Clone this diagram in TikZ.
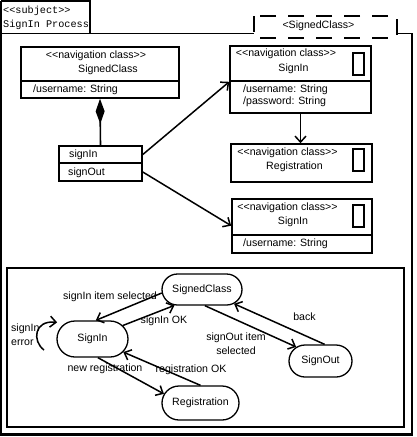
\documentclass[tikz,border=0pt]{standalone}
\usepackage{fontspec}
\setmainfont{Liberation Sans}
\setmonofont{Liberation Mono}
\usetikzlibrary{arrows.meta,shapes.misc}

\providecommand{\umlFont}{\fontsize{10.6}{14}\selectfont}
\providecommand{\umlLineWidth}{1.6pt}
\providecommand{\umlStateLineWidth}{1.3pt}
\newcommand{\stereo}[1]{<\kern0pt<#1>\kern0pt>}

\tikzset{
  compart/.style 2 args={draw, line width=\umlLineWidth, inner sep=0pt, minimum width=#1, minimum height=#2},
  lbl/.style={inner sep=0pt, font=\umlFont},
  state/.style={draw, rounded rectangle, line width=\umlStateLineWidth, inner sep=0pt, font=\umlFont},
  trans/.style={line width=1.5pt, -{Straight Barb[length=6pt,width=11pt]}},
}

\begin{document}
\begin{tikzpicture}[x=1pt, y=-1pt]
\useasboundingbox (0,0) rectangle (416,437);
% Subject frame
\draw[line width=1pt] (1,33) -- (412,33);
\draw[line width=1.6pt] (1,1) -- (1,435);
\draw[line width=2.6pt] (412,33) -- (412,434.5) -- (0,434.5);
% Name tab
\draw[line width=1.5pt] (1,1) -- (90,1) -- (90,33);
\node[lbl, font=\fontsize{10.2}{14}\selectfont\ttfamily, anchor=west, align=left] (subj) at (3,18) {\stereo{subject}\\SignIn Process};
% Template parameter
\draw[line width=2pt, dash pattern=on 16pt off 12pt, fill=white] (254,16) rectangle (397,38);
\node[lbl] (param) at (318.5,26) {<SignedClass>};

% SignedClass
\node[compart={158pt}{34pt}] (sc) at (100,64) {};
\node[compart={158pt}{17pt}] (sc-attr) at (100,89.5) {};
\node[lbl] (sc-st) at (96,56) {\stereo{navigation class}};
\node[lbl] (sc-name) at (108,70) {SignedClass};
\node[lbl, anchor=west] (sc-a1) at (33,89.5) {/username: String};
% Menu
\node[compart={83pt}{17pt}] (mn-in) at (100.5,154.5) {};
\node[compart={83pt}{18pt}] (mn-out) at (100.5,172) {};
\node[lbl, anchor=west] (mn-in-t) at (69,154.5) {signIn};
\node[lbl, anchor=west] (mn-out-t) at (68,172.5) {signOut};
% SignIn (top)
\node[compart={141pt}{35pt}] (si) at (300.5,63.5) {};
\node[compart={141pt}{32pt}] (si-attr) at (300.5,97) {};
\node[lbl] (si-st) at (286,54) {\stereo{navigation class}};
\node[lbl] (si-name) at (293.5,69) {SignIn};
\node[lbl, anchor=west] (si-a1) at (243,90) {/username: String};
\node[lbl, anchor=west] (si-a2) at (243,102) {/password: String};
% Registration
\node[compart={141pt}{38pt}] (reg) at (301.5,163) {};
\node[lbl] (reg-st) at (287.5,153) {\stereo{navigation class}};
\node[lbl] (reg-name) at (294.5,167) {Registration};
% SignIn (bottom)
\node[compart={140pt}{36pt}] (si2) at (302,217) {};
\node[compart={140pt}{18pt}] (si2-attr) at (302,244) {};
\node[lbl] (si2-st) at (287.5,208) {\stereo{navigation class}};
\node[lbl] (si2-name) at (293,222) {SignIn};
\node[lbl, anchor=west] (si2-a1) at (243,244) {/username: String};
% Icons
\foreach \y in {53,149,205}
  \draw[line width=1.5pt] (353,\y) rectangle ++(11,22);

% Class links
\draw[line width=\umlLineWidth, {Diamond[length=25pt,width=9pt]}-] (sc-attr.south) -- (mn-in.north);
\draw[trans] (mn-in.east) -- (si.south west);
\draw[trans] (si-attr.south) -- (si-attr.south |- reg.north);
\draw[trans] (mn-out.east) -- (si2.187);

% State machine
\draw[line width=2.6pt] (7,268) rectangle (404,427);
\node[state, minimum width=80pt, minimum height=31pt] (st-sc) at (202,289.5) {SignedClass};
\node[state, minimum width=71pt, minimum height=36pt] (st-si) at (92.5,339) {SignIn};
\node[state, minimum width=77pt, minimum height=34pt] (st-reg) at (200.5,403) {Registration};
\node[state, minimum width=63pt, minimum height=32pt] (st-so) at (320.5,361) {SignOut};
\coordinate (loop-end) at (44,350);

\draw[trans] (st-sc.185) -- (st-si.80);
\draw[trans] (st-si.24) -- (st-sc.210);
\draw[trans, shorten >=8pt] (loop-end) .. controls (32,341) and (34,320) .. (st-si.150);
\draw[trans] (st-si.286) -- (st-reg.166);
\draw[trans] (st-reg.north) -- (st-si.337);
\draw[trans] (st-sc.280) -- (st-so.150);
\draw[trans] (st-so.76) -- (st-sc.336);

\node[lbl] (t-sel) at (110,297) {signIn item selected};
\node[lbl] (t-ok) at (164,321) {signIn OK};
\node[lbl, anchor=west, align=left] (t-err) at (11,335) {signIn\\error};
\node[lbl] (t-new) at (105,369) {new registration};
\node[lbl] (t-regok) at (191,370) {registration OK};
\node[lbl, align=center] (t-out) at (236,344) {signOut item\\selected};
\node[lbl] (t-back) at (304.5,317) {back};
\end{tikzpicture}
\end{document}
